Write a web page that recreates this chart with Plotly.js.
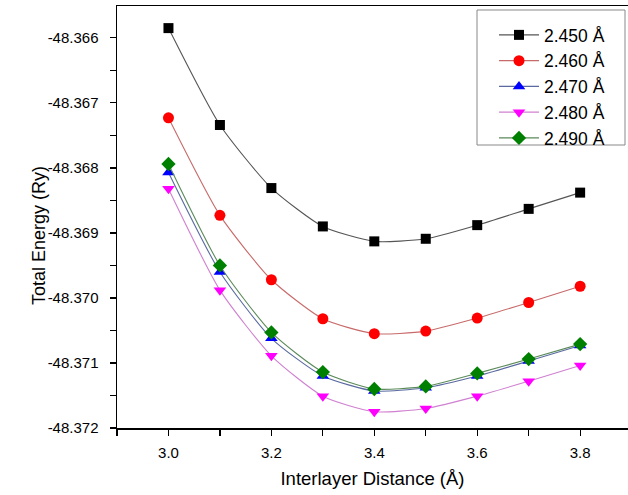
<!DOCTYPE html>
<html>
<head>
<meta charset="utf-8">
<script src="https://cdn.plot.ly/plotly-3.0.1.min.js"></script>
<style>
html,body{margin:0;padding:0;background:#fff;}
#chart{width:628px;height:495px;}
</style>
</head>
<body>
<div id="chart"></div>
<script>
const distance = [3.0, 3.1, 3.2, 3.3, 3.4, 3.5, 3.6, 3.7, 3.8];
const seriesNames = ["2.450 Å", "2.460 Å", "2.470 Å", "2.480 Å", "2.490 Å"];
const e2450 = [-48.36585, -48.36734, -48.36831, -48.36890, -48.36913, -48.36909, -48.36888, -48.36863, -48.36838];
const e2460 = [-48.36723, -48.36873, -48.36972, -48.37032, -48.37055, -48.37051, -48.37031, -48.37007, -48.36982];
const e2470 = [-48.36807, -48.36960, -48.37062, -48.37120, -48.37143, -48.37138, -48.37120, -48.37097, -48.37073];
const e2480 = [-48.36832, -48.36988, -48.37089, -48.37151, -48.37175, -48.37170, -48.37151, -48.37128, -48.37104];
const e2490 = [-48.36794, -48.36950, -48.37053, -48.37114, -48.37140, -48.37136, -48.37116, -48.37094, -48.37071];
const yTickVals = [-48.372, -48.371, -48.370, -48.369, -48.368, -48.367, -48.366];
const yTickText = ["-48.372", "-48.371", "-48.370", "-48.369", "-48.368", "-48.367", "-48.366"];
const xTickVals = [3.0, 3.2, 3.4, 3.6, 3.8];
const xTickText = ["3.0", "3.2", "3.4", "3.6", "3.8"];
const xTitle = "Interlayer Distance (Å)";
const yTitle = "Total Energy (Ry)";

const allSeries = [e2450, e2460, e2470, e2480, e2490];
const markerColors = ["#000000", "#ff0000", "#0000ff", "#ff00ff", "#008000"];
const lineColors = ["#555555", "#c86a6a", "#5a6aa0", "#d080d0", "#5a8a5a"];
const symbols = ["square", "circle", "triangle-up", "triangle-down", "diamond"];
const sizes = [10, 11, 11, 11, 11];

const traces = allSeries.map((ys, i) => ({
  x: distance,
  y: ys,
  name: seriesNames[i],
  type: "scatter",
  mode: "lines+markers",
  line: {color: lineColors[i], width: 1.1, shape: "spline", smoothing: 0.6},
  marker: {color: markerColors[i], symbol: symbols[i], size: sizes[i], line: {width: 0}}
}));

const font = "Liberation Sans, Arial, sans-serif";
const layout = {
  width: 628,
  height: 495,
  margin: {l: 117, r: 0, t: 6, b: 67},
  paper_bgcolor: "#ffffff",
  plot_bgcolor: "#ffffff",
  showlegend: true,
  font: {family: font, color: "#000"},
  xaxis: {
    range: [2.9, 3.893],
    tickmode: "array",
    tickvals: xTickVals,
    ticktext: xTickText,
    ticks: "outside",
    ticklen: 6,
    tickwidth: 1.2,
    tickcolor: "#000",
    ticklabelstandoff: 4,
    showline: true,
    linecolor: "#000",
    linewidth: 1.5,
    mirror: true,
    showgrid: false,
    zeroline: false,
    tickfont: {size: 15, family: font},
    minor: {dtick: 0.1, tick0: 3.0, ticks: "outside", ticklen: 6, tickwidth: 1.2, tickcolor: "#000", showgrid: false},
    title: {text: xTitle, font: {size: 18.5, family: font}, standoff: 12}
  },
  yaxis: {
    range: [-48.372, -48.36551],
    tickmode: "array",
    tickvals: yTickVals,
    ticktext: yTickText,
    ticks: "outside",
    ticklen: 6,
    tickwidth: 1.2,
    tickcolor: "#000",
    ticklabelstandoff: 8,
    showline: true,
    linecolor: "#000",
    linewidth: 1.5,
    showgrid: false,
    zeroline: false,
    tickfont: {size: 15, family: font},
    minor: {dtick: 0.0005, ticks: "outside", ticklen: 6, tickwidth: 1.2, tickcolor: "#000", showgrid: false}
  },
  annotations: [{
    text: yTitle, textangle: -90, showarrow: false,
    xref: "paper", yref: "paper",
    x: -(117 - 39) / 511, y: (428 - 236) / 422,
    xanchor: "center", yanchor: "middle",
    font: {size: 18, family: font, color: "#000"}
  }],
  shapes: [{
    type: "rect", xref: "paper", yref: "paper",
    x0: (477 - 117) / 511, x1: (625 - 117) / 511,
    y0: (428 - 145) / 422, y1: (428 - 10) / 422,
    line: {color: "#888", width: 1}, fillcolor: "rgba(0,0,0,0)", layer: "above"
  }],
  legend: {
    x: (494 - 117) / 511, y: (428 - 17) / 422, xanchor: "left", yanchor: "top",
    borderwidth: 0, bgcolor: "rgba(0,0,0,0)",
    font: {size: 17.5, family: font},
    itemwidth: 40
  }
};

Plotly.newPlot("chart", traces, layout, {staticPlot: true, displayModeBar: false});
</script>
</body>
</html>
